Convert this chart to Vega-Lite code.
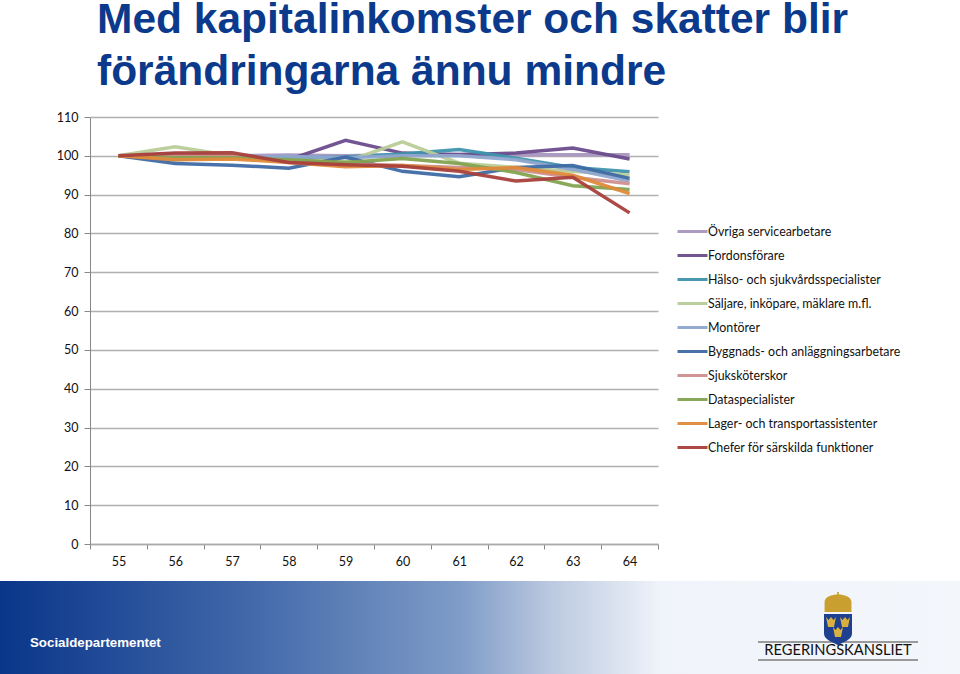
{"$schema":"https://vega.github.io/schema/vega-lite/v6.json","width":568,"height":427,"autosize":{"type":"none"},"padding":{"left":90,"top":117,"right":302,"bottom":130},"background":"#ffffff","title":{"text":["Med kapitalinkomster och skatter blir","förändringarna ännu mindre"],"anchor":"start","frame":"group","dx":7,"offset":18,"font":"Liberation Sans","fontWeight":"bold","fontSize":42.5,"lineHeight":52,"color":"#0b3a8c"},"config":{"view":{"stroke":null}},"datasets":{"series":[
{"g":"Övriga servicearbetare","a":55,"v":100},{"g":"Övriga servicearbetare","a":56,"v":100},{"g":"Övriga servicearbetare","a":57,"v":100},{"g":"Övriga servicearbetare","a":58,"v":100.2},{"g":"Övriga servicearbetare","a":59,"v":100},{"g":"Övriga servicearbetare","a":60,"v":100.3},{"g":"Övriga servicearbetare","a":61,"v":100.4},{"g":"Övriga servicearbetare","a":62,"v":100.3},{"g":"Övriga servicearbetare","a":63,"v":100.3},{"g":"Övriga servicearbetare","a":64,"v":100.3},
{"g":"Fordonsförare","a":55,"v":100},{"g":"Fordonsförare","a":56,"v":100.5},{"g":"Fordonsförare","a":57,"v":100},{"g":"Fordonsförare","a":58,"v":99},{"g":"Fordonsförare","a":59,"v":104},{"g":"Fordonsförare","a":60,"v":100.7},{"g":"Fordonsförare","a":61,"v":100.3},{"g":"Fordonsförare","a":62,"v":100.7},{"g":"Fordonsförare","a":63,"v":102},{"g":"Fordonsförare","a":64,"v":99.2},
{"g":"Hälso- och sjukvårdsspecialister","a":55,"v":100},{"g":"Hälso- och sjukvårdsspecialister","a":56,"v":99},{"g":"Hälso- och sjukvårdsspecialister","a":57,"v":99.7},{"g":"Hälso- och sjukvårdsspecialister","a":58,"v":99.5},{"g":"Hälso- och sjukvårdsspecialister","a":59,"v":99.7},{"g":"Hälso- och sjukvårdsspecialister","a":60,"v":100.5},{"g":"Hälso- och sjukvårdsspecialister","a":61,"v":101.6},{"g":"Hälso- och sjukvårdsspecialister","a":62,"v":99.4},{"g":"Hälso- och sjukvårdsspecialister","a":63,"v":97},{"g":"Hälso- och sjukvårdsspecialister","a":64,"v":95.9},
{"g":"Säljare, inköpare, mäklare m.fl.","a":55,"v":100},{"g":"Säljare, inköpare, mäklare m.fl.","a":56,"v":102.3},{"g":"Säljare, inköpare, mäklare m.fl.","a":57,"v":100},{"g":"Säljare, inköpare, mäklare m.fl.","a":58,"v":99},{"g":"Säljare, inköpare, mäklare m.fl.","a":59,"v":98.5},{"g":"Säljare, inköpare, mäklare m.fl.","a":60,"v":103.6},{"g":"Säljare, inköpare, mäklare m.fl.","a":61,"v":98.1},{"g":"Säljare, inköpare, mäklare m.fl.","a":62,"v":97},{"g":"Säljare, inköpare, mäklare m.fl.","a":63,"v":96},{"g":"Säljare, inköpare, mäklare m.fl.","a":64,"v":95},
{"g":"Montörer","a":55,"v":100},{"g":"Montörer","a":56,"v":99.5},{"g":"Montörer","a":57,"v":99.7},{"g":"Montörer","a":58,"v":99.8},{"g":"Montörer","a":59,"v":99.5},{"g":"Montörer","a":60,"v":100},{"g":"Montörer","a":61,"v":100},{"g":"Montörer","a":62,"v":99},{"g":"Montörer","a":63,"v":96.5},{"g":"Montörer","a":64,"v":93.5},
{"g":"Byggnads- och anläggningsarbetare","a":55,"v":100},{"g":"Byggnads- och anläggningsarbetare","a":56,"v":98},{"g":"Byggnads- och anläggningsarbetare","a":57,"v":97.6},{"g":"Byggnads- och anläggningsarbetare","a":58,"v":96.8},{"g":"Byggnads- och anläggningsarbetare","a":59,"v":99.7},{"g":"Byggnads- och anläggningsarbetare","a":60,"v":96},{"g":"Byggnads- och anläggningsarbetare","a":61,"v":94.6},{"g":"Byggnads- och anläggningsarbetare","a":62,"v":97},{"g":"Byggnads- och anläggningsarbetare","a":63,"v":97.5},{"g":"Byggnads- och anläggningsarbetare","a":64,"v":94.2},
{"g":"Sjuksköterskor","a":55,"v":100},{"g":"Sjuksköterskor","a":56,"v":100},{"g":"Sjuksköterskor","a":57,"v":100},{"g":"Sjuksköterskor","a":58,"v":98.5},{"g":"Sjuksköterskor","a":59,"v":98},{"g":"Sjuksköterskor","a":60,"v":97.5},{"g":"Sjuksköterskor","a":61,"v":97},{"g":"Sjuksköterskor","a":62,"v":96.5},{"g":"Sjuksköterskor","a":63,"v":94.5},{"g":"Sjuksköterskor","a":64,"v":92.8},
{"g":"Dataspecialister","a":55,"v":100},{"g":"Dataspecialister","a":56,"v":99.5},{"g":"Dataspecialister","a":57,"v":99.5},{"g":"Dataspecialister","a":58,"v":99},{"g":"Dataspecialister","a":59,"v":98.3},{"g":"Dataspecialister","a":60,"v":99.3},{"g":"Dataspecialister","a":61,"v":98},{"g":"Dataspecialister","a":62,"v":95.7},{"g":"Dataspecialister","a":63,"v":92.3},{"g":"Dataspecialister","a":64,"v":91.3},
{"g":"Lager- och transportassistenter","a":55,"v":100},{"g":"Lager- och transportassistenter","a":56,"v":99},{"g":"Lager- och transportassistenter","a":57,"v":99.2},{"g":"Lager- och transportassistenter","a":58,"v":98.3},{"g":"Lager- och transportassistenter","a":59,"v":97.2},{"g":"Lager- och transportassistenter","a":60,"v":97.5},{"g":"Lager- och transportassistenter","a":61,"v":96.5},{"g":"Lager- och transportassistenter","a":62,"v":97},{"g":"Lager- och transportassistenter","a":63,"v":95},{"g":"Lager- och transportassistenter","a":64,"v":90.3},
{"g":"Chefer för särskilda funktioner","a":55,"v":100},{"g":"Chefer för särskilda funktioner","a":56,"v":100.7},{"g":"Chefer för särskilda funktioner","a":57,"v":100.8},{"g":"Chefer för särskilda funktioner","a":58,"v":98.3},{"g":"Chefer för särskilda funktioner","a":59,"v":97.7},{"g":"Chefer för särskilda funktioner","a":60,"v":97.3},{"g":"Chefer för särskilda funktioner","a":61,"v":96},{"g":"Chefer för särskilda funktioner","a":62,"v":93.5},{"g":"Chefer för särskilda funktioner","a":63,"v":94.5},{"g":"Chefer för särskilda funktioner","a":64,"v":85.3}
]},"resolve":{"scale":{"x":"independent","y":"independent"}},"layer":[
{"data":{"values":[{"a":0,"b":960,"c":581,"d":674}]},"mark":{"type":"rect","color":{"gradient":"linear","x1":0,"x2":1,"y1":0,"y2":0,"stops":[{"offset":0,"color":"#0a368a"},{"offset":0.25,"color":"#3f66a8"},{"offset":0.48,"color":"#7f9cc8"},{"offset":0.575,"color":"#bcc9e0"},{"offset":0.69,"color":"#f0f4fa"},{"offset":1,"color":"#f3f6fb"}]}},"encoding":{"x":{"field":"a","type":"quantitative","axis":null,"scale":{"domain":[0,960],"range":[-90,870]}},"x2":{"field":"b"},"y":{"field":"c","type":"quantitative","axis":null,"scale":{"domain":[0,674],"range":[-117,557]}},"y2":{"field":"d"}}},
{"data":{"name":"series"},"mark":{"type":"line","strokeWidth":3.5,"strokeJoin":"miter","opacity":0.95},"encoding":{"x":{"field":"a","type":"ordinal","scale":{"type":"band","paddingInner":0,"paddingOuter":0},"axis":{"title":null,"labelAngle":0,"tickBand":"extent","labelFont":"Lato","labelFontSize":12.5,"labelColor":"#111111","labelPadding":6,"tickSize":5,"tickColor":"#888888","domainColor":"#aaaaaa","domainWidth":1.5,"grid":false}},"y":{"field":"v","type":"quantitative","scale":{"domain":[0,110],"nice":false},"axis":{"title":null,"values":[0,10,20,30,40,50,60,70,80,90,100,110],"labelFont":"Lato","labelFontSize":12.5,"labelColor":"#111111","labelPadding":6,"tickSize":6,"tickColor":"#888888","domainColor":"#888888","grid":true,"gridColor":"#b0b0b0","gridWidth":1.5}},"color":{"field":"g","type":"nominal","sort":null,"scale":{"domain":["Övriga servicearbetare","Fordonsförare","Hälso- och sjukvårdsspecialister","Säljare, inköpare, mäklare m.fl.","Montörer","Byggnads- och anläggningsarbetare","Sjuksköterskor","Dataspecialister","Lager- och transportassistenter","Chefer för särskilda funktioner"],"range":["#a896c0","#6a4c8c","#3f93ad","#b8cc98","#8fa6cf","#3f6aa5","#cf8f8f","#83a350","#df8a3a","#a8403c"]},"legend":{"title":null,"orient":"none","legendX":586,"legendY":98,"symbolType":"stroke","symbolSize":900,"symbolStrokeWidth":3,"labelFont":"Lato","labelFontSize":12.4,"labelColor":"#111111","labelLimit":300,"rowPadding":1,"labelOffset":-1}}}},
{"data":{"values":[{"t":"Socialdepartementet","a":30,"c":643}]},"mark":{"type":"text","align":"left","baseline":"middle","font":"Liberation Sans","fontWeight":"bold","fontSize":13.3,"color":"#ffffff"},"encoding":{"text":{"field":"t"},"x":{"field":"a","type":"quantitative","axis":null,"scale":{"domain":[0,960],"range":[-90,870]}},"y":{"field":"c","type":"quantitative","axis":null,"scale":{"domain":[0,674],"range":[-117,557]}}}},
{"data":{"values":[{"a":758,"b":918,"c":642},{"a":758,"b":918,"c":660}]},"mark":{"type":"rule","strokeWidth":2,"color":"#9a9a9a"},"encoding":{"x":{"field":"a","type":"quantitative","axis":null,"scale":{"domain":[0,960],"range":[-90,870]}},"x2":{"field":"b"},"y":{"field":"c","type":"quantitative","axis":null,"scale":{"domain":[0,674],"range":[-117,557]}}}},
{"data":{"values":[{"t":"REGERINGSKANSLIET","a":838,"c":651}]},"mark":{"type":"text","align":"center","baseline":"middle","font":"Lato","fontSize":14.7,"color":"#111111"},"encoding":{"text":{"field":"t"},"x":{"field":"a","type":"quantitative","axis":null,"scale":{"domain":[0,960],"range":[-90,870]}},"y":{"field":"c","type":"quantitative","axis":null,"scale":{"domain":[0,674],"range":[-117,557]}}}},
{"data":{"values":[{"a":838,"c":628}]},"mark":{"type":"point","filled":true,"opacity":1,"size":3136,"color":"#1f3f8f","shape":"M-0.5,-0.5 L0.5,-0.5 L0.5,0.2 C0.5,0.42 0.2,0.5 0,0.62 C-0.2,0.5 -0.5,0.42 -0.5,0.2 Z"},"encoding":{"x":{"field":"a","type":"quantitative","axis":null,"scale":{"domain":[0,960],"range":[-90,870]}},"y":{"field":"c","type":"quantitative","axis":null,"scale":{"domain":[0,674],"range":[-117,557]}}}},
{"data":{"values":[{"a":838,"c":602}]},"mark":{"type":"point","filled":true,"opacity":1,"size":3136,"color":"#c9a030","shape":"M-0.48,0.36 L-0.48,0 C-0.48,-0.2 -0.2,-0.27 -0.03,-0.27 L-0.03,-0.36 L0.03,-0.36 L0.03,-0.27 C0.2,-0.27 0.48,-0.2 0.48,0 L0.48,0.36 Z"},"encoding":{"x":{"field":"a","type":"quantitative","axis":null,"scale":{"domain":[0,960],"range":[-90,870]}},"y":{"field":"c","type":"quantitative","axis":null,"scale":{"domain":[0,674],"range":[-117,557]}}}},
{"data":{"values":[{"a":831,"c":622},{"a":845,"c":622},{"a":838,"c":632}]},"mark":{"type":"point","filled":true,"opacity":1,"size":400,"color":"#d8b040","shape":"M-0.5,-0.5 L-0.25,-0.2 L0,-0.5 L0.25,-0.2 L0.5,-0.5 L0.3,0.5 L-0.3,0.5 Z"},"encoding":{"x":{"field":"a","type":"quantitative","axis":null,"scale":{"domain":[0,960],"range":[-90,870]}},"y":{"field":"c","type":"quantitative","axis":null,"scale":{"domain":[0,674],"range":[-117,557]}}}}
]}
